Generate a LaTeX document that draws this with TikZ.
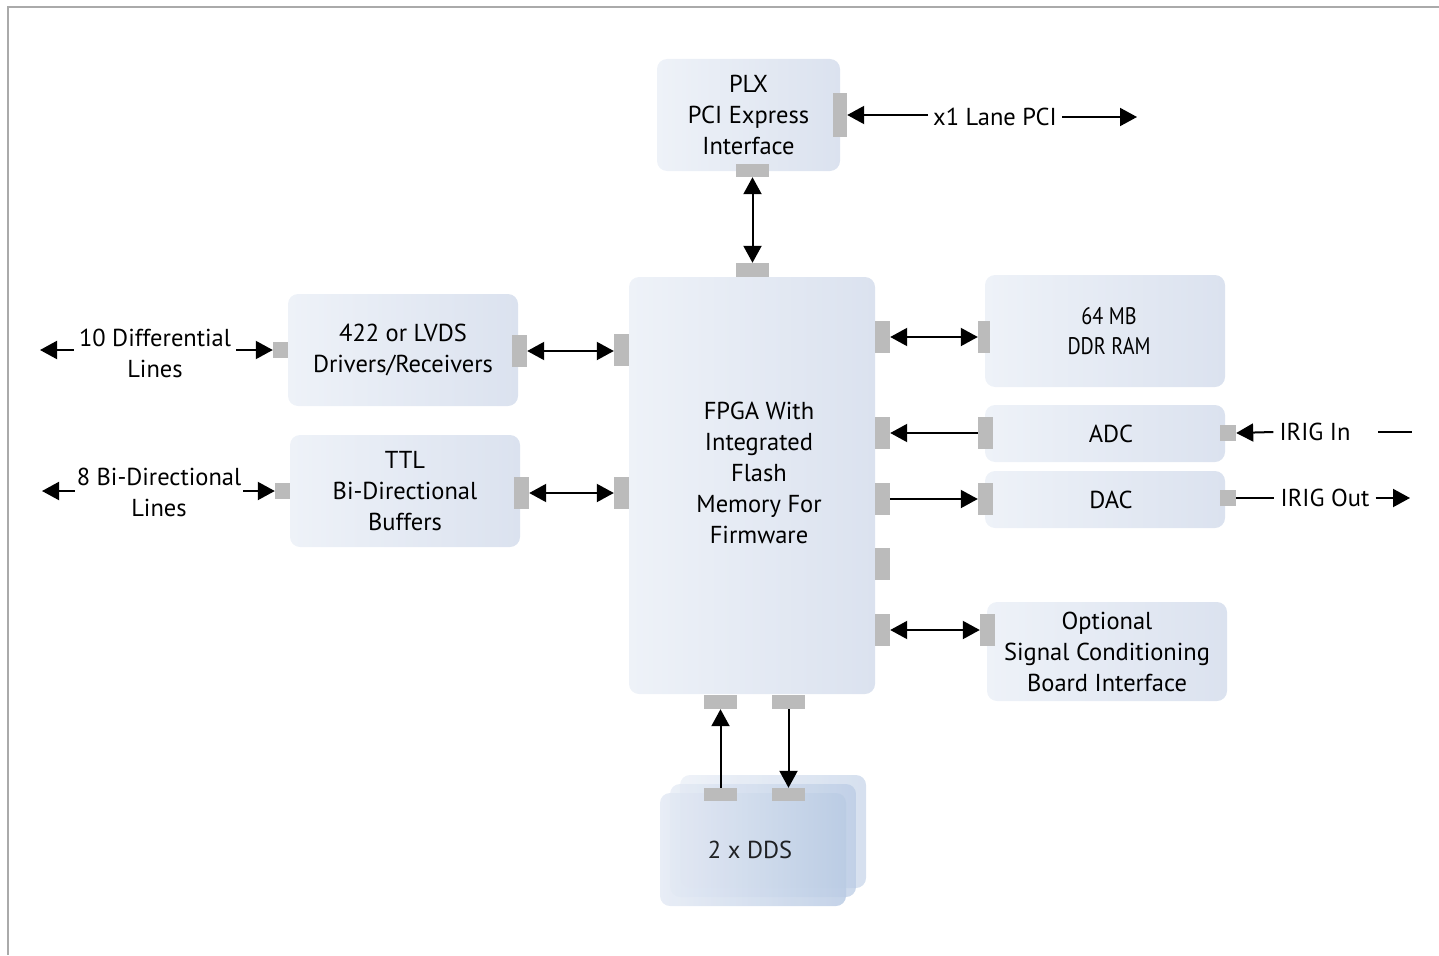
\documentclass[tikz,border=0pt]{standalone}
\usepackage{fontspec}
\setmainfont{PT Sans}
\newfontfamily\condfont[FakeStretch=0.84]{PT Sans}
\usetikzlibrary{arrows.meta}
\definecolor{boxL}{RGB}{238,242,248}
\definecolor{boxR}{RGB}{219,226,239}
\definecolor{portc}{RGB}{187,187,187}
\definecolor{framec}{RGB}{170,170,170}
\definecolor{ddsL}{RGB}{228,234,244}
\definecolor{ddsR}{RGB}{186,203,228}
\begin{document}
\begin{tikzpicture}[x=1pt,y=-1pt,
  box/.style={rounded corners=10pt, left color=boxL, right color=boxR, draw=none,
    align=center, inner sep=0pt, font=\fontsize{24.5}{31}\selectfont},
  ddsbox/.style={rounded corners=10pt, left color=ddsL, right color=ddsR, draw=none,
    minimum width=186pt, minimum height=113pt, inner sep=0pt},
  port/.style={fill=portc, draw=none, inner sep=0pt},
  vport/.style={port, minimum width=15pt, minimum height=32pt},
  hport/.style={port, minimum width=33pt, minimum height=14pt},
  sport/.style={port, minimum width=15pt, minimum height=16pt},
  txt/.style={align=center, inner sep=4pt, font=\fontsize{24.5}{31}\selectfont},
  arr/.style={line width=2pt, >={Triangle[length=17pt,width=18pt]}},
]
\useasboundingbox (0,0) rectangle (1439,955);
\draw[framec, line width=1.5pt] (1439,7) -- (8,7) -- (8,955);

% boxes
\node[box, minimum width=183pt, minimum height=112pt] (plx) at (748.5,115) {PLX\\PCI Express\\Interface};
\node[box, minimum width=246pt, minimum height=417pt] (fpga) at (752,485.5) {};
\node[txt] (fpgatext) at (759,473) {FPGA With\\Integrated\\Flash\\Memory For\\Firmware};
\node[box, minimum width=230pt, minimum height=112pt] (drv) at (403,350) {422 or LVDS\\Drivers/Receivers};
\node[box, minimum width=230pt, minimum height=112pt] (ttl) at (405,491) {TTL\\Bi-Directional\\Buffers};
\node[box, minimum width=240pt, minimum height=112pt, font=\condfont\fontsize{24}{30}\selectfont] (ddr) at (1105,331) {\hspace*{8pt}64 MB\\\hspace*{8pt}DDR RAM};
\node[box, minimum width=240pt, minimum height=57pt] (adc) at (1105,433.5) {\hspace*{12pt}ADC};
\node[box, minimum width=240pt, minimum height=57pt] (dac) at (1105,499.5) {\hspace*{12pt}DAC};
\node[box, minimum width=240pt, minimum height=99pt] (opt) at (1107,651.5) {Optional\\Signal Conditioning\\Board Interface};
\node[ddsbox, opacity=0.6] (ddsc) at (773,831.5) {};
\node[ddsbox, opacity=0.75] (ddsb) at (763,840.5) {};
\node[ddsbox, opacity=0.85, font=\fontsize{24.5}{31}\selectfont] (dds) at (753,849.5) {\hspace*{-6pt}2 x DDS};

% ports
\node[port, minimum width=14pt, minimum height=44pt] (plxR) at (840,115) {};
\node[port, minimum width=33pt, minimum height=13pt] (plxB) at (752.5,170.5) {};
\node[hport] (fpgaT) at (752.5,270) {};
\node[vport] (fpgaL1) at (621.5,350) {};
\node[vport] (fpgaL2) at (621.5,493) {};
\node[vport] (drvR) at (519.5,351) {};
\node[sport] (drvL) at (280.5,350) {};
\node[vport] (ttlR) at (521.5,493) {};
\node[sport] (ttlL) at (282.5,491) {};
\node[vport] (fpgaR1) at (882.5,337) {};
\node[vport] (fpgaR2) at (882.5,433) {};
\node[vport] (fpgaR3) at (882.5,499) {};
\node[vport] (fpgaR4) at (882.5,564) {};
\node[vport] (fpgaR5) at (882.5,630) {};
\node[port, minimum width=12pt, minimum height=32pt] (ddrL) at (984,337) {};
\node[vport] (adcL) at (985.5,433) {};
\node[port, minimum width=16pt, minimum height=16pt] (adcR) at (1228,433) {};
\node[vport] (dacL) at (985.5,499) {};
\node[port, minimum width=16pt, minimum height=16pt] (dacR) at (1228,498) {};
\node[vport] (optL) at (987.5,630) {};
\node[hport] (fpgaB1) at (720.5,702) {};
\node[hport] (fpgaB2) at (788.5,702) {};
\node[port, minimum width=33pt, minimum height=13pt] (ddsT1) at (720.5,794.5) {};
\node[port, minimum width=33pt, minimum height=13pt] (ddsT2) at (788.5,794.5) {};

% external labels
\node[txt, inner sep=5pt] (pci) at (995,117) {x1 Lane PCI};
\coordinate (pciEnd) at (1137,117);
\node[txt, inner sep=5pt] (diff) at (155,353.5) {10 Differential\\Lines};
\coordinate (diffEnd) at (40,350);
\node[txt, inner sep=2pt] (bidir) at (159,492.5) {8 Bi-Directional\\Lines};
\coordinate (bidirEnd) at (42,491);
\node[txt, inner sep=6pt] (irigin) at (1315,432) {IRIG In};
\coordinate (dashA) at (1378,432);
\coordinate (dashB) at (1412,432);
\node[txt, inner sep=6pt] (irigout) at (1325,498) {IRIG Out};
\coordinate (outEnd) at (1410,498);

% connectors
\draw[arr,->] (pci.west |- plxR.east) -- (plxR.east);
\draw[arr,->] (pci.east) -- (pciEnd);
\draw[arr,<->] (plxB.south) -- (fpgaT.north);
\draw[arr,<->] (drvR.east) -- (drvR.east -| fpgaL1.west);
\draw[arr,<->] (ttlR.east) -- (ttlR.east -| fpgaL2.west);
\draw[arr,<->] (fpgaR1.east) -- (ddrL.west);
\draw[arr,->] (adcL.west) -- (fpgaR2.east);
\draw[arr,->] (fpgaR3.east) -- (dacL.west);
\draw[arr,<->] (fpgaR5.east) -- (optL.west);
\draw[arr,->] (ddsT1.north) -- (fpgaB1.south);
\draw[arr,->] (fpgaB2.south) -- (ddsT2.north);
\draw[arr,->] (diff.west |- drvL.west) -- (diffEnd);
\draw[arr,->] (diff.east |- drvL.west) -- (drvL.west);
\draw[arr,->] (bidir.west |- ttlL.west) -- (bidirEnd);
\draw[arr,->] (bidir.east |- ttlL.west) -- (ttlL.west);
\draw[arr,->] (irigin.west) -- (adcR.east);
\draw[line width=2pt] (dashA) -- (dashB);
\draw[line width=2pt] (dacR.east) -- (irigout.west |- dacR.east);
\draw[arr,->] (irigout.east) -- (outEnd);
\end{tikzpicture}
\end{document}
